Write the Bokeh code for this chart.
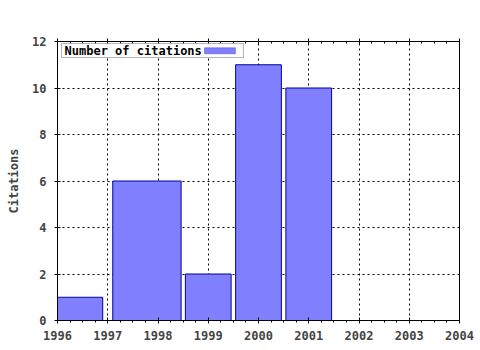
from bokeh.plotting import figure
from bokeh.models import (LinearAxis, SingleIntervalTicker, BoxAnnotation, Label,
                          Range1d, ColumnDataSource, CustomJSTickFormatter)
from bokeh.embed import file_html
from bokeh.resources import INLINE

# Data
bar_centers = [1996.45, 1997.78, 1999.0, 2000.0, 2001.0]
bar_widths = [0.90, 1.36, 0.91, 0.91, 0.91]
citations = [1, 6, 2, 11, 10]
series_name = "Number of citations"
y_title = "Citations"

FONT = "DejaVu Sans Mono"
FS = "12px"

src = ColumnDataSource(dict(x=bar_centers, w=bar_widths, top=citations))

p = figure(width=480, height=350, output_backend="svg", toolbar_location=None,
           x_range=Range1d(1996, 2004), y_range=Range1d(0, 12),
           min_border_left=57, min_border_right=21, min_border_top=41,
           min_border_bottom=30, background_fill_color="white",
           border_fill_color="white")

p.vbar(x="x", width="w", top="top", bottom=0, source=src,
       fill_color="#8080ff", line_color="#0000a0", line_width=1)

p.outline_line_color = "black"
p.outline_line_width = 1

# x axis
xa = p.xaxis[0]
xa.ticker = SingleIntervalTicker(interval=1, num_minor_ticks=4)
xa.major_tick_in = 3
xa.major_tick_out = 3
xa.minor_tick_in = 0
xa.minor_tick_out = 2
xa.major_label_standoff = 7
xa.major_label_text_font = FONT
xa.major_label_text_font_style = "bold"
xa.major_label_text_font_size = FS
xa.axis_line_color = "black"
xa.major_tick_line_color = "black"
xa.minor_tick_line_color = "black"

# y axis
ya = p.yaxis[0]
ya.ticker = SingleIntervalTicker(interval=2, num_minor_ticks=0)
ya.major_tick_in = 3
ya.major_tick_out = 3
ya.minor_tick_line_color = None
ya.major_label_standoff = 8
ya.major_label_text_font = FONT
ya.major_label_text_font_style = "bold"
ya.major_label_text_font_size = FS
ya.axis_label = y_title
ya.axis_label_text_font = FONT
ya.axis_label_text_font_style = "bold"
ya.axis_label_text_font_size = FS
ya.axis_label_standoff = 8

# top mirror axis (ticks only)
top_ax = LinearAxis(ticker=SingleIntervalTicker(interval=1, num_minor_ticks=4),
                    formatter=CustomJSTickFormatter(code="return '';"),
                    major_label_standoff=0, major_tick_in=3,
                    major_tick_out=3, minor_tick_in=2, minor_tick_out=0,
                    axis_line_color="black")
p.add_layout(top_ax, "above")
p.min_border_top = 41

# grid
p.xgrid.ticker = SingleIntervalTicker(interval=1)
p.ygrid.ticker = SingleIntervalTicker(interval=2)
for g in (p.xgrid[0], p.ygrid[0]):
    g.grid_line_color = "black"
    g.grid_line_dash = "2 3"
    g.grid_line_width = 1
    g.grid_line_alpha = 1.0

# legend (gnuplot style: text then swatch, inside a box)
p.add_layout(BoxAnnotation(left=1996.08, right=1999.70, bottom=11.31, top=11.91,
                           fill_color="white", fill_alpha=1.0,
                           line_color="black", line_width=1))
p.add_layout(Label(x=1996.14, y=11.61, text=series_name, text_font=FONT,
                   text_font_style="bold", text_font_size=FS,
                   text_baseline="middle", text_color="black"))
p.add_layout(BoxAnnotation(left=1998.925, right=1999.54, bottom=11.47, top=11.73,
                           fill_color="#8080ff", fill_alpha=1.0,
                           line_color="#0000a0", line_width=1))

open("out.html", "w").write(file_html(p, INLINE))
